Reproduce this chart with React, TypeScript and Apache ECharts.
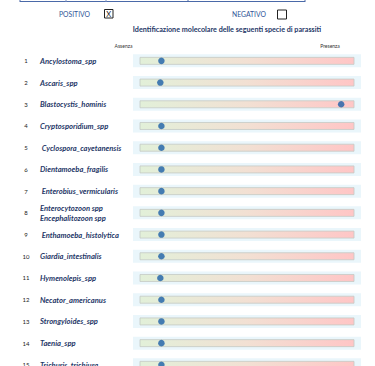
import React, { useEffect, useRef } from "react";
import * as echarts from "echarts";

const species = [
  "Ancylostoma_spp",
  "Ascaris_spp",
  "Blastocystis_hominis",
  "Cryptosporidium_spp",
  " Cyclospora_cayetanensis",
  "Dientamoeba_fragilis",
  " Enterobius_vermicularis",
  "Enterocytozoon spp\nEncephalitozoon spp",
  " Enthamoeba_histolytica",
  "Giardia_intestinalis",
  "Hymenolepis_spp",
  "Necator_americanus",
  "Strongyloides_spp",
  "Taenia_spp",
  "Trichuris_trichiura",
];
const rowNumbers = ["1", "2", "3", "4", "5", "6", "7", "8", "9", "10", "11", "12", "13", "14", "15"];
const levels = [10, 9.5, 94, 10, 10, 10, 10, 10, 10, 10, 9.5, 10, 10, 10, 10];
const scaleLabels = ["Assenza", "Presenza"];
const title = "Identificazione molecolare delle seguenti specie di parassiti";

const NAVY = "#1f3868";
const FONT = "Lato, 'Open Sans', sans-serif";

export default function App() {
  const ref = useRef<HTMLDivElement>(null);
  useEffect(() => {
    if (!ref.current) return;
    const chart = echarts.init(ref.current, undefined, { renderer: "svg" });
    const gradient = new echarts.graphic.LinearGradient(0, 0, 1, 0, [
      { offset: 0, color: "#e2f0d9" },
      { offset: 0.5, color: "#f2e0d3" },
      { offset: 1, color: "#ffc6c6" },
    ]);
    chart.setOption({
      animation: false,
      backgroundColor: "#ffffff",
      grid: { left: 140, right: 21, top: 50, height: 325.7 },
      xAxis: { type: "value", min: 0, max: 100, show: false },
      yAxis: [
        {
          type: "category",
          inverse: true,
          position: "left",
          data: species,
          axisLine: { show: false },
          axisTick: { show: false },
          splitLine: { show: false },
          axisLabel: {
            margin: 100,
            align: "left",
            fontFamily: FONT,
            fontSize: 7.6,
            fontWeight: "bold",
            fontStyle: "italic",
            color: NAVY,
            lineHeight: 9.5,
          },
        },
        {
          type: "category",
          inverse: true,
          position: "left",
          data: rowNumbers,
          axisLine: { show: false },
          axisTick: { show: false },
          splitLine: { show: false },
          axisLabel: {
            margin: 114,
            align: "center",
            fontFamily: FONT,
            fontSize: 6,
            color: "#222222",
          },
        },
      ],
      graphic: [
        { type: "line", shape: { x1: 20, y1: 1.5, x2: 305, y2: 1.5 }, style: { stroke: "#4a69a8", lineWidth: 1 } },
        { type: "line", shape: { x1: 20, y1: 0, x2: 20, y2: 2 }, style: { stroke: "#4a69a8", lineWidth: 1 } },
        { type: "line", shape: { x1: 66, y1: 0, x2: 66, y2: 2 }, style: { stroke: "#7a8fc0", lineWidth: 1 } },
        { type: "line", shape: { x1: 106, y1: 0, x2: 106, y2: 2 }, style: { stroke: "#7a8fc0", lineWidth: 1 } },
        { type: "line", shape: { x1: 188, y1: 0, x2: 188, y2: 2 }, style: { stroke: "#4a69a8", lineWidth: 1 } },
        { type: "line", shape: { x1: 305, y1: 0, x2: 305, y2: 2 }, style: { stroke: "#4a69a8", lineWidth: 1 } },
        {
          type: "text", x: 59, y: 14,
          style: { text: "POSITIVO", fontFamily: FONT, fontSize: 6.8, fill: "#2f5597", textVerticalAlign: "middle" },
        },
        { type: "rect", shape: { x: 104.5, y: 9.5, width: 8.5, height: 8.5 }, style: { fill: "#fff", stroke: "#222", lineWidth: 1 } },
        {
          type: "text", x: 108.8, y: 14,
          style: { text: "X", fontFamily: FONT, fontSize: 7.5, fill: "#222", textAlign: "center", textVerticalAlign: "middle" },
        },
        {
          type: "text", x: 232, y: 14,
          style: { text: "NEGATIVO", fontFamily: FONT, fontSize: 6.8, fill: "#2f5597", textVerticalAlign: "middle" },
        },
        { type: "rect", shape: { x: 277.5, y: 10, width: 9, height: 9 }, style: { fill: "#fff", stroke: "#222", lineWidth: 1 } },
        {
          type: "text", x: 227, y: 29.5,
          style: { text: title, fontFamily: FONT, fontSize: 7.2, fontWeight: "bold", fill: NAVY, textAlign: "center", textVerticalAlign: "middle" },
        },
        {
          type: "text", x: 123.5, y: 46,
          style: { text: scaleLabels[0], fontFamily: FONT, fontSize: 5, fill: "#333", textAlign: "center", textVerticalAlign: "middle" },
        },
        {
          type: "text", x: 330, y: 46,
          style: { text: scaleLabels[1], fontFamily: FONT, fontSize: 5, fill: "#333", textAlign: "center", textVerticalAlign: "middle" },
        },
      ],
      series: [
        {
          type: "custom",
          data: species.map((_, i) => [0, i]),
          encode: { x: 0, y: 1 },
          silent: true,
          z: 1,
          renderItem: (params: any, api: any) => {
            const idx = api.value(1);
            const s = api.coord([0, idx]);
            const e = api.coord([100, idx]);
            return {
              type: "group",
              children: [
                {
                  type: "rect",
                  shape: { x: s[0] - 7, y: s[1] - 6.5, width: e[0] - s[0] + 14, height: 13 },
                  style: { fill: "#eaf6fb" },
                },
                {
                  type: "rect",
                  shape: { x: s[0], y: s[1] - 3.5, width: e[0] - s[0], height: 7 },
                  style: { fill: gradient, stroke: "#c4c9c4", lineWidth: 0.8 },
                },
              ],
            };
          },
        },
        {
          type: "scatter",
          data: levels,
          symbol: "circle",
          symbolSize: 6.5,
          z: 3,
          itemStyle: { color: "#1b5fa8" },
        },
      ],
    });
    return () => chart.dispose();
  }, []);
  return (
    <div
      ref={ref}
      style={{ position: "fixed", left: 0, top: 0, width: 375, height: 380 }}
    />
  );
}
